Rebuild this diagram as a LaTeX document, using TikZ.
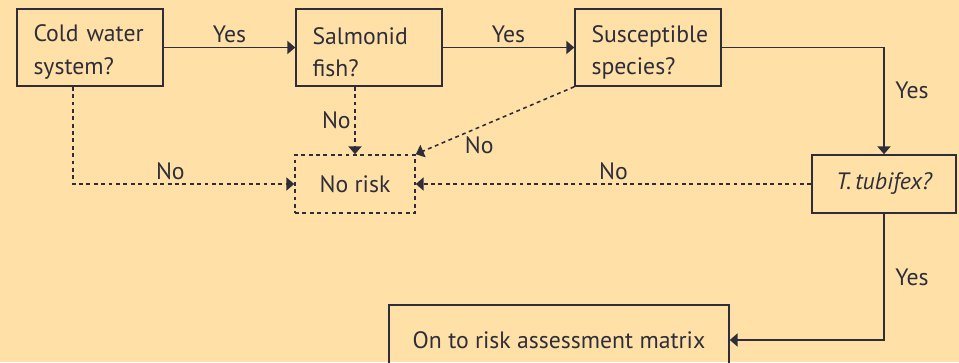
\documentclass[tikz,border=0pt]{standalone}
\usepackage{fontspec}
\setmainfont{PT Sans}
\usetikzlibrary{arrows.meta}
\definecolor{bgpeach}{HTML}{FFE1A8}
\definecolor{ink}{HTML}{2E2E3A}
\begin{document}
\begin{tikzpicture}[x=0.02cm,y=-0.02cm,
        font=\fontsize{13.5}{18.5}\selectfont,
        qbox/.style={draw=ink,line width=0.9pt,text=ink,align=left,
            text width=2.26cm,inner xsep=0.33cm,inner ysep=0pt,
            minimum width=2.92cm,minimum height=1.54cm,
            execute at begin node=\rule{0pt}{15pt}},
        endbox/.style={draw=ink,line width=0.9pt,text=ink,align=center,
            inner sep=0pt,minimum height=1.16cm},
        flow/.style={draw=ink,line width=0.9pt,
            -{Triangle[length=4.5pt,width=7.5pt]}},
        noflow/.style={flow,dash pattern=on 2.2pt off 2pt},
        lbl/.style={text=ink,inner sep=2pt}]
        %% Background
        \clip (0,0) rectangle (959,362);
        \fill[bgpeach] (0,0) rectangle (959,362);
        %% Questions
        \node[qbox] (cold) at (90,47.5) {Cold water\\system?};
        \node[qbox] (salm) at (369,47.5) {Salmonid\\fish?};
        \node[qbox] (susc) at (648,47.5) {Susceptible\\species?};
        \node[endbox,minimum width=2.88cm] (tubi) at (884,184)
            {\itshape T.\,tubifex?};
        %% Outcomes
        \node[endbox,minimum width=2.4cm,dash pattern=on 2.2pt off 2pt]
            (norisk) at (355,184) {No risk};
        \node[endbox,minimum width=6.8cm,minimum height=1.4cm]
            (matrix) at (559,340) {On to risk assessment matrix};
        %% Yes
        \draw[flow] (cold.east) -- node[lbl,above] {Yes} (salm.west);
        \draw[flow] (salm.east) -- node[lbl,above] {Yes} (susc.west);
        \draw[flow] (susc.east) -| node[lbl,pos=0.7,right=4pt] {Yes}
            (tubi.north);
        \draw[flow] (tubi.south) |- node[lbl,pos=0.25,right=4pt] {Yes}
            (matrix.east);
        %% No
        \draw[noflow] ([xshift=-0.34cm]cold.south) |-
            node[lbl,pos=0.72,above] {No} (norisk.west);
        \draw[noflow] (salm.south -| norisk.north) --
            node[lbl,left] {No} (norisk.north);
        \draw[noflow] (susc.south west) --
            node[lbl,pos=0.6,below=3pt] {No} (norisk.north east);
        \draw[noflow] (tubi.west) -- node[lbl,above] {No} (norisk.east);
    \end{tikzpicture}
\end{document}
